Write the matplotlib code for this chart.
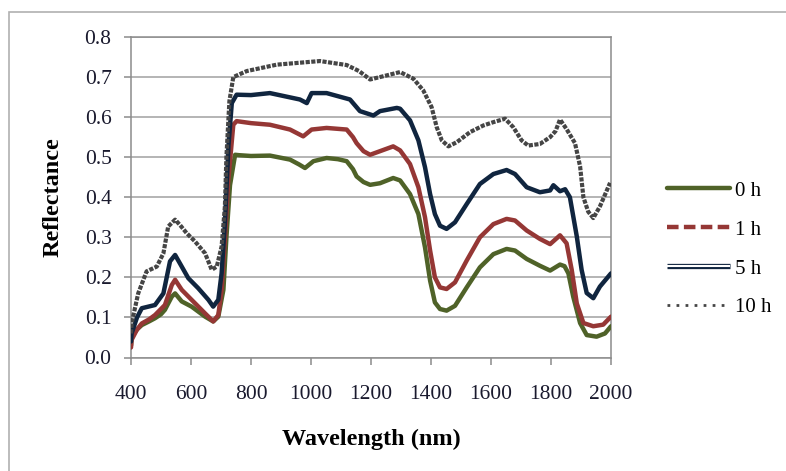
import matplotlib
matplotlib.use("Agg")
import matplotlib.pyplot as plt
from matplotlib.lines import Line2D
from matplotlib.patches import Rectangle
import matplotlib.patheffects as pe

plt.rcParams['font.family'] = ['Liberation Serif', 'DejaVu Serif']

series_labels = ["0 h", "1 h", "5 h", "10 h"]

wl_0h = [400, 402, 420, 436, 460, 480, 500, 513, 536, 547, 569, 602, 647, 674, 691, 708, 718, 730, 747, 760, 800, 863, 930, 960, 980, 1008, 1052, 1090, 1119, 1140, 1152, 1175, 1197, 1230, 1274, 1297, 1330, 1358, 1380, 1397, 1413, 1430, 1452, 1480, 1519, 1563, 1608, 1652, 1680, 1719, 1763, 1797, 1830, 1845, 1858, 1874, 1897, 1919, 1952, 1980, 2000]
r_0h = [0.03, 0.052, 0.07, 0.081, 0.09, 0.098, 0.108, 0.119, 0.152, 0.16, 0.14, 0.127, 0.102, 0.09, 0.102, 0.169, 0.30, 0.43, 0.506, 0.505, 0.503, 0.504, 0.494, 0.482, 0.473, 0.49, 0.498, 0.495, 0.49, 0.47, 0.452, 0.438, 0.431, 0.435, 0.448, 0.442, 0.408, 0.358, 0.275, 0.192, 0.1375, 0.121, 0.117, 0.129, 0.175, 0.225, 0.258, 0.271, 0.267, 0.246, 0.229, 0.217, 0.232, 0.228, 0.21, 0.152, 0.086, 0.056, 0.052, 0.06, 0.078]

wl_1h = [400, 402, 420, 436, 460, 480, 513, 536, 547, 569, 602, 647, 674, 691, 702, 713, 724, 741, 752, 800, 863, 930, 974, 1002, 1052, 1119, 1140, 1152, 1175, 1197, 1230, 1274, 1297, 1330, 1358, 1380, 1397, 1413, 1430, 1452, 1480, 1519, 1563, 1608, 1652, 1680, 1719, 1763, 1797, 1815, 1830, 1852, 1869, 1886, 1908, 1941, 1974, 2000]
r_1h = [0.025, 0.044, 0.07, 0.085, 0.095, 0.106, 0.131, 0.181, 0.194, 0.169, 0.144, 0.11, 0.09, 0.106, 0.169, 0.294, 0.44, 0.581, 0.59, 0.585, 0.581, 0.569, 0.552, 0.569, 0.573, 0.569, 0.55, 0.535, 0.515, 0.506, 0.515, 0.527, 0.517, 0.483, 0.425, 0.35, 0.267, 0.2, 0.175, 0.171, 0.1875, 0.242, 0.30, 0.333, 0.346, 0.342, 0.317, 0.296, 0.283, 0.295, 0.305, 0.285, 0.219, 0.135, 0.086, 0.078, 0.082, 0.102]

wl_5h = [400, 402, 420, 436, 480, 508, 530, 547, 563, 591, 624, 658, 674, 691, 702, 713, 725, 736, 752, 800, 863, 963, 986, 1002, 1052, 1130, 1163, 1208, 1230, 1286, 1297, 1330, 1358, 1380, 1397, 1413, 1430, 1452, 1480, 1519, 1563, 1608, 1652, 1680, 1719, 1763, 1797, 1808, 1830, 1847, 1863, 1886, 1902, 1919, 1941, 1963, 2000]
r_5h = [0.04, 0.06, 0.10, 0.123, 0.131, 0.16, 0.24, 0.256, 0.235, 0.198, 0.173, 0.144, 0.127, 0.144, 0.21, 0.335, 0.53, 0.635, 0.656, 0.655, 0.66, 0.644, 0.635, 0.66, 0.66, 0.644, 0.615, 0.604, 0.615, 0.623, 0.621, 0.592, 0.542, 0.475, 0.408, 0.358, 0.329, 0.321, 0.3375, 0.383, 0.433, 0.458, 0.468, 0.458, 0.425, 0.4125, 0.417, 0.43, 0.415, 0.42, 0.40, 0.302, 0.219, 0.161, 0.148, 0.177, 0.21]

wl_10h = [400, 402, 424, 452, 486, 508, 524, 547, 563, 586, 613, 647, 669, 686, 702, 713, 718, 728, 741, 786, 886, 1030, 1119, 1160, 1197, 1230, 1297, 1341, 1374, 1402, 1419, 1436, 1458, 1486, 1530, 1574, 1608, 1647, 1674, 1702, 1724, 1763, 1797, 1815, 1830, 1852, 1880, 1897, 1908, 1924, 1941, 1963, 1997]
r_10h = [0.06, 0.085, 0.16, 0.215, 0.227, 0.26, 0.327, 0.344, 0.331, 0.31, 0.29, 0.26, 0.219, 0.227, 0.277, 0.377, 0.50, 0.64, 0.70, 0.715, 0.731, 0.74, 0.73, 0.715, 0.694, 0.70, 0.7125, 0.696, 0.667, 0.625, 0.575, 0.542, 0.527, 0.5375, 0.5625, 0.579, 0.5875, 0.596, 0.575, 0.542, 0.529, 0.533, 0.55, 0.565, 0.594, 0.57, 0.535, 0.477, 0.40, 0.364, 0.348, 0.377, 0.436]

x_ticks = [400, 600, 800, 1000, 1200, 1400, 1600, 1800, 2000]
y_ticks = [0.0, 0.1, 0.2, 0.3, 0.4, 0.5, 0.6, 0.7, 0.8]

c_green = '#4F6228'
c_red = '#953735'
c_blue = '#10253F'
c_gray = '#454545'

W, H = 786, 471
fig = plt.figure(figsize=(W / 100, H / 100), dpi=100)
ax = fig.add_axes([131 / W, 1 - 357.5 / H, (611 - 131) / W, (357.5 - 37) / H])

kw = dict(lw=3.2, solid_joinstyle='round', solid_capstyle='round')
ax.plot(wl_0h, r_0h, color=c_green, zorder=3, **kw)
ax.plot(wl_1h, r_1h, color=c_red, zorder=4, **kw)
ax.plot(wl_5h, r_5h, color=c_blue, zorder=5, **kw)
ax.plot(wl_10h, r_10h, color=c_gray, lw=3.0, linestyle=(0, (1.0, 0.35)), zorder=6)

ax.set_xlim(400, 2000)
ax.set_ylim(0, 0.8)
ax.set_xticks(x_ticks)
ax.set_yticks(y_ticks)
ax.set_xticklabels([str(v) for v in x_ticks])
ax.set_yticklabels([f"{v:.1f}" for v in y_ticks])
ax.grid(axis='y', color='#A0A0A0', lw=1.1, zorder=0)
ax.set_axisbelow(True)
for s in ['left', 'bottom', 'right', 'top']:
    ax.spines[s].set_color('#8C8C8C')
    ax.spines[s].set_linewidth(1.1)
ax.tick_params(axis='both', direction='out', length=5, width=1.1, color='#8C8C8C',
               labelsize=15.5, labelcolor='#1A1A2E')
ax.tick_params(axis='x', pad=15)
ax.tick_params(axis='y', pad=9)

ax.set_xlabel('Wavelength (nm)', fontsize=17.5, fontweight='bold', labelpad=18)
ax.set_ylabel('Reflectance', fontsize=17.5, fontweight='bold', labelpad=15)

# legend
h0 = Line2D([], [], color=c_green, lw=3.2, solid_capstyle='round')
h1 = Line2D([], [], color=c_red, lw=3.2, linestyle=(0, (2.6, 1.2)))
h5 = Line2D([], [], color='white', lw=1.5, solid_capstyle='butt',
            path_effects=[pe.Stroke(linewidth=3.8, foreground=c_blue, capstyle='butt'), pe.Normal()])
h10 = Line2D([], [], color=c_gray, lw=2.0, linestyle=(0, (1.0, 2.25)))
fig.legend([h0, h1, h5, h10], series_labels,
           loc='upper left', bbox_to_anchor=(667 / W, 1 - 181 / H),
           frameon=False, fontsize=15, handlelength=3.0, handletextpad=0.25,
           labelspacing=0.93, borderpad=0, borderaxespad=0)

fig.patches.append(Rectangle((9 / W, -0.05), 1.2, 1 - 12 / H + 0.05, transform=fig.transFigure,
                             fill=False, edgecolor='#B0B0B0', lw=1.2))

fig.savefig('out.png', dpi=100)
